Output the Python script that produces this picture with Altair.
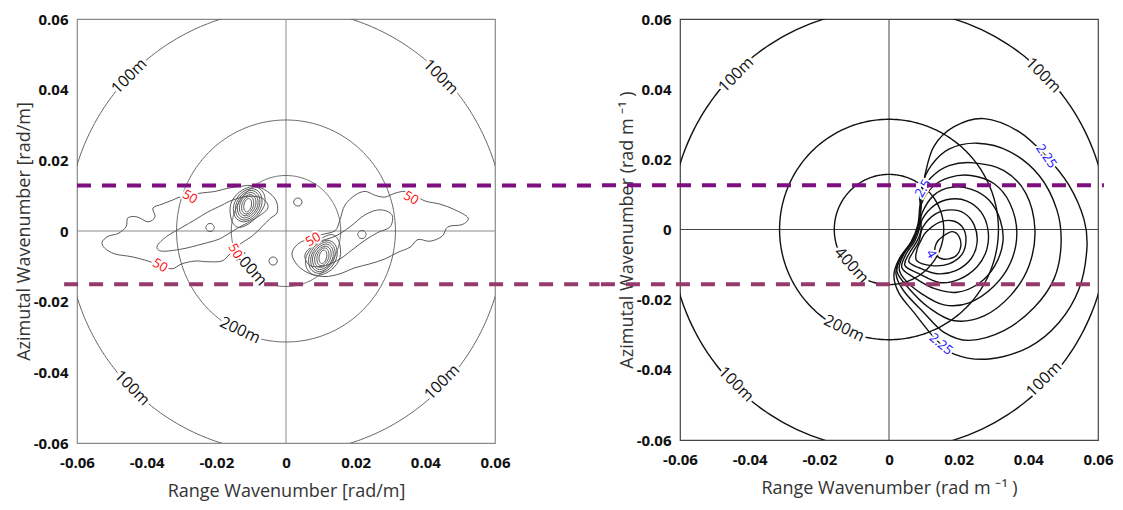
import altair as alt
import numpy as np
import pandas as pd

# ---------------------------------------------------------------- data
MILLI = 1e-3                      # contour / label points are given in 1e-3 rad/m
AXIS_TICKS = [-0.06, -0.04, -0.02, 0, 0.02, 0.04, 0.06]
WAVELENGTHS_M = [100, 200, 400]   # reference wavelength circles

# circle labels: text, kx, ky (1e-3 rad/m), text angle
LEFT_CIRCLE_LABELS = [("100m", -45.0, 43.8, 315), ("100m", 44.4, 43.6, 45),
                      ("100m", -44.2, -44.4, 45), ("100m", 44.8, -42.8, 315),
                      ("200m", -13.2, -28.1, 25), ("400m", -10.4, -10.4, 48)]
RIGHT_CIRCLE_LABELS = [("100m", -43.9, 44.1, 315), ("100m", 44.3, 44.0, 45),
                       ("100m", -43.9, -44.1, 45), ("100m", 44.5, -42.7, 315),
                       ("200m", -12.9, -28.2, 25), ("400m", -10.8, -10.2, 48)]

# left panel (SAR image spectrum) contour labels
LEFT_CONTOUR_LABELS = [("50", -27.6, 9.6, 30), ("50", -36.2, -9.8, 30),
                       ("50", -14.6, -5.7, 60), ("50", 35.9, 9.3, 30),
                       ("50", 7.8, -2.4, 330)]
# right panel (wave spectrum) contour labels
RIGHT_CONTOUR_LABELS = [("2.25", 45.1, 20.9, 55), ("2.25", 14.9, -32.7, 40),
                        ("2.5", 9.8, 11.7, 300), ("4", 12.1, -7.0, 60)]

# left panel contours (closed rings), 1e-3 rad/m
L_OUTER_NEG = [(-52.8, -3.2), (-51.1, -1.5), (-48.2, -0.7), (-45.9, 1.2), (-45.4, 3.7),
               (-42.8, 4.0), (-39.6, 2.6), (-37.6, 4.0), (-38.2, 6.5), (-35.6, 7.6),
               (-32.7, 8.7), (-30.4, 9.6), (-27.0, 10.1), (-24.7, 10.7), (-20.4, 11.2),
               (-16.7, 12.1), (-13.2, 12.6), (-10.3, 12.9), (-6.9, 12.1), (-4.0, 10.1),
               (-2.6, 7.9), (-2.6, 5.1), (-4.6, 3.5), (-6.9, 1.2), (-9.8, -1.5),
               (-13.2, -3.7), (-16.1, -6.5), (-18.4, -8.5), (-22.4, -8.7), (-26.1, -8.5),
               (-29.9, -9.3), (-32.7, -10.7), (-36.2, -9.8), (-39.6, -8.5), (-44.2, -7.3),
               (-49.1, -6.5), (-52.0, -4.9)]
L_MID_NEG = [(-37.0, -4.3), (-34.2, -1.5), (-29.9, 1.0), (-26.1, 3.2), (-22.4, 5.4),
             (-18.4, 7.3), (-15.5, 8.7), (-11.2, 9.8), (-6.9, 9.3), (-5.2, 6.5),
             (-8.9, 3.5), (-13.2, 1.2), (-16.9, -1.0), (-19.5, -2.4), (-24.1, -3.7),
             (-29.9, -5.1), (-35.6, -5.7)]
L_PEAK_NEG_1 = [(-12.1, 7.3), (-12.0, 6.0), (-11.3, 5.4), (-10.4, 6.0), (-9.9, 7.3), (-10.0, 8.6), (-10.7, 9.2), (-11.6, 8.6)]
L_PEAK_NEG_2 = [(-12.7, 7.3), (-12.5, 5.5), (-11.5, 4.8), (-10.2, 5.5), (-9.3, 7.3), (-9.5, 9.1), (-10.5, 9.8), (-11.8, 9.1)]
L_PEAK_NEG_3 = [(-13.3, 7.3), (-13.1, 5.2), (-11.7, 4.3), (-9.9, 5.2), (-8.7, 7.3), (-8.9, 9.4), (-10.3, 10.3), (-12.2, 9.4)]
L_PEAK_NEG_4 = [(-13.9, 7.3), (-13.6, 4.8), (-11.9, 3.7), (-9.6, 4.8), (-8.1, 7.3), (-8.4, 9.8), (-10.1, 10.9), (-12.5, 9.8)]
L_PEAK_NEG_5 = [(-14.4, 7.3), (-14.1, 4.4), (-12.0, 3.1), (-9.3, 4.4), (-7.6, 7.3), (-7.9, 10.2), (-10.0, 11.5), (-12.7, 10.2)]
L_PEAK_NEG_6 = [(-15.0, 7.3), (-14.6, 4.0), (-12.2, 2.6), (-9.0, 4.0), (-7.0, 7.3), (-7.4, 10.6), (-9.8, 12.0), (-13.0, 10.6)]
L_PEAK_NEG_7 = [(-15.9, 7.5), (-15.6, 3.0), (-13.4, 1.0), (-9.4, 3.0), (-6.2, 7.3), (-6.6, 11.0), (-9.4, 12.6), (-13.4, 11.0)]

L_OUTER_POS = [(1.7, -6.5), (3.4, -3.7), (6.9, -2.1), (10.3, -1.0), (14.1, 0.1), (15.5, 3.2),
               (16.9, 7.3), (19.8, 10.1), (22.7, 11.2), (25.6, 10.1), (28.4, 9.6), (31.3, 10.7),
               (34.2, 11.2), (37.0, 10.1), (39.9, 8.5), (44.2, 7.6), (48.5, 6.0), (52.3, 3.7),
               (50.5, 1.8), (46.5, 1.2), (44.8, -1.5), (41.3, -2.9), (37.9, -2.4), (35.6, -4.6),
               (32.2, -6.0), (28.4, -7.9), (24.1, -9.3), (19.8, -10.4), (15.5, -12.1),
               (11.2, -12.9), (6.9, -12.1), (3.4, -9.8)]
L_MID_POS = [(5.5, -6.5), (9.2, -3.2), (14.1, -1.5), (18.4, 1.2), (22.7, 4.6), (27.0, 6.0),
             (30.4, 4.6), (29.9, 1.2), (26.4, -0.4), (22.7, -2.6), (18.9, -5.4), (15.5, -7.9),
             (11.2, -9.8), (6.9, -9.8)]
L_PEAK_POS_1 = [(11.7, -7.3), (11.6, -6.0), (10.9, -5.4), (10.0, -6.0), (9.5, -7.3), (9.6, -8.6), (10.3, -9.2), (11.2, -8.6)]
L_PEAK_POS_2 = [(12.3, -7.3), (12.1, -5.5), (11.1, -4.8), (9.8, -5.5), (8.9, -7.3), (9.1, -9.1), (10.1, -9.8), (11.4, -9.1)]
L_PEAK_POS_3 = [(12.9, -7.3), (12.7, -5.2), (11.3, -4.3), (9.5, -5.2), (8.3, -7.3), (8.5, -9.4), (9.9, -10.3), (11.8, -9.4)]
L_PEAK_POS_4 = [(13.5, -7.3), (13.2, -4.8), (11.5, -3.7), (9.2, -4.8), (7.7, -7.3), (8.0, -9.8), (9.7, -10.9), (12.1, -9.8)]
L_PEAK_POS_5 = [(14.0, -7.3), (13.7, -4.4), (11.6, -3.1), (8.9, -4.4), (7.2, -7.3), (7.5, -10.2), (9.6, -11.5), (12.3, -10.2)]
L_PEAK_POS_6 = [(14.6, -7.3), (14.2, -4.0), (11.8, -2.6), (8.6, -4.0), (6.6, -7.3), (7.0, -10.6), (9.4, -12.0), (12.6, -10.6)]
L_PEAK_POS_7 = [(15.5, -7.5), (15.2, -3.0), (13.0, -1.0), (9.0, -3.0), (5.8, -7.3), (6.2, -11.0), (9.0, -12.6), (13.0, -11.0)]

L_SPOT_A = [(-20.6, 1.0), (-21.2, 2.0), (-22.4, 2.0), (-23.0, 1.0), (-22.4, 0.0), (-21.2, 0.0)]
L_SPOT_B = [(4.6, 8.2), (4.0, 9.2), (2.8, 9.2), (2.2, 8.2), (2.8, 7.2), (4.0, 7.2)]
L_SPOT_C = [(-2.5, -8.5), (-3.1, -7.5), (-4.3, -7.5), (-4.9, -8.5), (-4.3, -9.5), (-3.1, -9.5)]
L_SPOT_D = [(23.0, -1.0), (22.4, 0.0), (21.2, 0.0), (20.6, -1.0), (21.2, -2.0), (22.4, -2.0)]

# right panel contours (closed rings), 1e-3 rad/m, outer (2.25) to inner
R_LEVEL_1 = [(10.3, 15.4), (12.9, 23.7), (18.7, 29.3), (27.3, 31.6), (37.3, 27.9), (45.1, 20.9),
             (51.7, 12.6), (56.0, 2.8), (56.8, -5.6), (54.6, -16.8), (48.8, -26.5), (40.2, -33.5),
             (28.7, -36.9), (18.7, -35.5), (12.9, -30.7), (7.2, -23.7), (2.9, -18.2), (1.4, -13.1),
             (2.9, -8.4), (6.3, -3.6), (8.3, 1.4), (8.9, 7.0)]
R_LEVEL_2 = [(9.5, 12.6), (12.1, 18.2), (17.2, 22.9), (25.3, 24.6), (34.5, 22.3), (43.1, 15.4),
             (48.2, 5.6), (49.4, -4.2), (47.4, -14.0), (41.6, -22.3), (33.0, -28.8), (23.0, -31.6),
             (15.8, -29.3), (10.0, -23.7), (4.3, -17.6), (2.0, -12.6), (3.4, -7.8), (6.6, -3.4),
             (8.6, 1.4), (9.2, 7.5)]
R_LEVEL_3 = [(8.9, 9.8), (12.1, 14.8), (17.2, 18.2), (24.4, 19.0), (33.0, 16.8), (39.3, 10.3),
             (41.9, 0.0), (40.2, -10.3), (35.0, -18.7), (27.3, -24.6), (18.7, -26.0), (11.5, -22.3),
             (5.7, -16.8), (2.3, -12.0), (3.7, -7.5), (6.9, -3.1), (8.6, 2.0), (9.2, 6.4)]
R_LEVEL_4 = [(9.2, 7.0), (12.3, 12.0), (17.2, 14.8), (23.5, 15.4), (30.1, 13.1), (34.7, 7.5),
             (36.7, -0.8), (35.0, -9.2), (30.1, -16.2), (23.0, -20.9), (15.8, -21.5), (9.2, -18.2),
             (4.3, -14.0), (2.9, -10.9), (4.3, -7.0), (7.2, -2.8), (8.9, 2.0)]
R_LEVEL_5 = [(9.5, 4.7), (12.9, 9.8), (17.8, 12.0), (23.5, 11.5), (28.7, 8.4), (31.9, 2.8),
             (32.7, -3.6), (30.4, -10.3), (25.8, -15.4), (19.5, -17.9), (12.9, -16.8), (7.2, -13.7),
             (3.7, -10.9), (4.9, -7.0), (7.5, -3.1), (8.9, 0.8)]
R_LEVEL_6 = [(9.5, 2.8), (13.2, 7.0), (17.8, 8.7), (22.4, 8.1), (26.4, 5.0), (28.4, 0.0),
             (28.1, -5.6), (25.3, -10.6), (20.1, -14.2), (14.4, -15.1), (8.6, -12.6), (4.6, -10.3),
             (5.7, -7.0), (8.0, -3.4), (9.2, -0.3)]
R_LEVEL_7 = [(9.8, 0.8), (13.5, 4.5), (17.8, 5.6), (21.5, 4.7), (24.4, 1.4), (25.3, -3.6),
             (23.5, -8.4), (19.2, -11.7), (13.8, -12.6), (8.6, -10.9), (5.7, -9.2), (6.9, -6.4),
             (8.6, -3.4)]
R_LEVEL_8 = [(10.6, -0.8), (14.4, 2.0), (18.1, 2.5), (21.0, 0.8), (22.1, -2.8), (21.0, -7.0),
             (17.2, -9.8), (12.3, -10.3), (8.0, -8.9), (8.0, -5.9), (9.2, -3.1)]
R_LEVEL_9 = [(15.4, -2.0), (18.2, -0.6), (20.2, -2.2), (20.5, -5.3), (18.8, -7.8), (15.4, -8.4),
             (13.3, -6.7), (13.6, -3.9)]

# horizontal dashed lines: ky, start kx, end kx (1e-3 rad/m), colour
LEFT_DASHES = [(12.9, -60.0, 90.0, "#7d0f80"), (-15.1, -63.7, 90.0, "#963a6b")]
RIGHT_DASHES = [(12.6, -82.4, 61.7, "#7d0f80"), (-15.6, -82.7, 58.3, "#963a6b")]

LEFT_RINGS = [L_OUTER_NEG, L_MID_NEG, L_PEAK_NEG_1, L_PEAK_NEG_2, L_PEAK_NEG_3, L_PEAK_NEG_4,
              L_PEAK_NEG_5, L_PEAK_NEG_6, L_PEAK_NEG_7, L_OUTER_POS, L_MID_POS, L_PEAK_POS_1,
              L_PEAK_POS_2, L_PEAK_POS_3, L_PEAK_POS_4, L_PEAK_POS_5, L_PEAK_POS_6, L_PEAK_POS_7,
              L_SPOT_A, L_SPOT_B, L_SPOT_C, L_SPOT_D]
RIGHT_RINGS = [R_LEVEL_1, R_LEVEL_2, R_LEVEL_3, R_LEVEL_4, R_LEVEL_5, R_LEVEL_6, R_LEVEL_7,
               R_LEVEL_8, R_LEVEL_9]

# ---------------------------------------------------------------- tables
def rings_df(rings):
    rows = []
    for rid, pts in enumerate(rings):
        for i, (x, y) in enumerate(pts):
            rows.append({"rid": rid, "i": i, "kx": x * MILLI, "ky": y * MILLI})
    return pd.DataFrame(rows)


def circles_df():
    ang = np.deg2rad(np.arange(0, 361, 1))
    rows = []
    for lam in WAVELENGTHS_M:
        k = 2 * np.pi / lam
        for i, a in enumerate(ang):
            rows.append({"lam": lam, "i": i, "kx": k * np.cos(a), "ky": k * np.sin(a)})
    return pd.DataFrame(rows)


def labels_df(labels):
    return pd.DataFrame([{"label": t, "kx": x * MILLI, "ky": y * MILLI, "angle": a}
                         for t, x, y, a in labels])


def dashes_df(dashes):
    return pd.DataFrame([{"ky": y * MILLI, "x1": a * MILLI, "x2": b * MILLI, "color": c}
                         for y, a, b, c in dashes])


# ---------------------------------------------------------------- encodings
FONT = "Open Sans"
SCALE = alt.Scale(domain=[-0.06, 0.06], nice=False, zero=False)
LABEL_EXPR = "datum.value == 0 ? '0' : replace(format(datum.value, '.2f'), '\u2212', '-')"


def axis(title, is_x):
    return alt.Axis(values=AXIS_TICKS, labelExpr=LABEL_EXPR, title=title, grid=False,
                    ticks=False, domain=False, labelFlush=False, labelOverlap=False,
                    labelFont=FONT, labelFontSize=15, labelFontWeight="bold",
                    labelColor="#111", labelPadding=12 if is_x else 9,
                    titleFont=FONT, titleFontSize=18, titleFontWeight="normal",
                    titleColor="#333", titlePadding=12 if is_x else 0)


def ex(field, title):
    return alt.X(f"{field}:Q", scale=SCALE, axis=axis(title, True))


def ey(field, title):
    return alt.Y(f"{field}:Q", scale=SCALE, axis=axis(title, False))


def panel(xt, yt, rings, circle_labels, contour_labels, dashes, label_color,
          line_color, circle_color, frame_color, stroke_w, height):
    zx = alt.Chart(pd.DataFrame({"kx": [0.0]})).mark_rule(
        color=frame_color, strokeWidth=1).encode(x=ex("kx", xt))
    zy = alt.Chart(pd.DataFrame({"ky": [0.0]})).mark_rule(
        color=frame_color, strokeWidth=1).encode(y=ey("ky", yt))
    circ = alt.Chart(circles_df()).mark_line(
        color=circle_color, strokeWidth=stroke_w, clip=True).encode(
        x=ex("kx", xt), y=ey("ky", yt), detail="lam:N", order="i:Q")
    cont = alt.Chart(rings_df(rings)).mark_line(
        color=line_color, strokeWidth=stroke_w, clip=True,
        interpolate="cardinal-closed").encode(
        x=ex("kx", xt), y=ey("ky", yt), detail="rid:N", order="i:Q")
    cl = labels_df(circle_labels)
    kl = labels_df(contour_labels)
    halo_c = alt.Chart(cl).mark_text(font=FONT, fontSize=16, color="white", stroke="white",
                                     strokeWidth=6, baseline="middle").encode(
        x=ex("kx", xt), y=ey("ky", yt), text="label:N", angle=alt.Angle("angle:Q", scale=None))
    text_c = alt.Chart(cl).mark_text(font=FONT, fontSize=16, color="#111",
                                     baseline="middle").encode(
        x=ex("kx", xt), y=ey("ky", yt), text="label:N", angle=alt.Angle("angle:Q", scale=None))
    halo_k = alt.Chart(kl).mark_text(font=FONT, fontSize=13, color="white", stroke="white",
                                     strokeWidth=4, baseline="middle").encode(
        x=ex("kx", xt), y=ey("ky", yt), text="label:N", angle=alt.Angle("angle:Q", scale=None))
    text_k = alt.Chart(kl).mark_text(font=FONT, fontSize=13, color=label_color,
                                     baseline="middle").encode(
        x=ex("kx", xt), y=ey("ky", yt), text="label:N", angle=alt.Angle("angle:Q", scale=None))
    dash = alt.Chart(dashes_df(dashes)).mark_rule(
        strokeDash=[14, 11], strokeWidth=4, clip=False).encode(
        x=ex("x1", xt), x2="x2:Q", y=ey("ky", yt),
        color=alt.Color("color:N", scale=None))
    return alt.layer(zx, zy, circ, cont, halo_c, text_c, halo_k, text_k, dash).properties(
        width=418, height=height,
        view=alt.ViewBackground(stroke=frame_color, strokeWidth=1.2, fill="white"))


left = panel("Range Wavenumber [rad/m]", "Azimutal Wavenumber [rad/m]", LEFT_RINGS,
             LEFT_CIRCLE_LABELS, LEFT_CONTOUR_LABELS, LEFT_DASHES, "#ff0000",
             "#5a5a5a", "#666666", "#8a8a8a", 1.0, 424)
right = panel("Range Wavenumber (rad m \u207b\u00b9 )", "Azimutal Wavenumber (rad m \u207b\u00b9 )",
              RIGHT_RINGS, RIGHT_CIRCLE_LABELS, RIGHT_CONTOUR_LABELS, RIGHT_DASHES, "#1010ff",
              "#111111", "#111111", "#444444", 1.4, 421)

chart = alt.hconcat(left, right, spacing=185, bounds="flush").properties(
    padding={"left": 6, "top": 3, "right": 0, "bottom": 0},
    background="white",
)

chart.save("out.html", embed_options={"renderer": "svg", "actions": False})
